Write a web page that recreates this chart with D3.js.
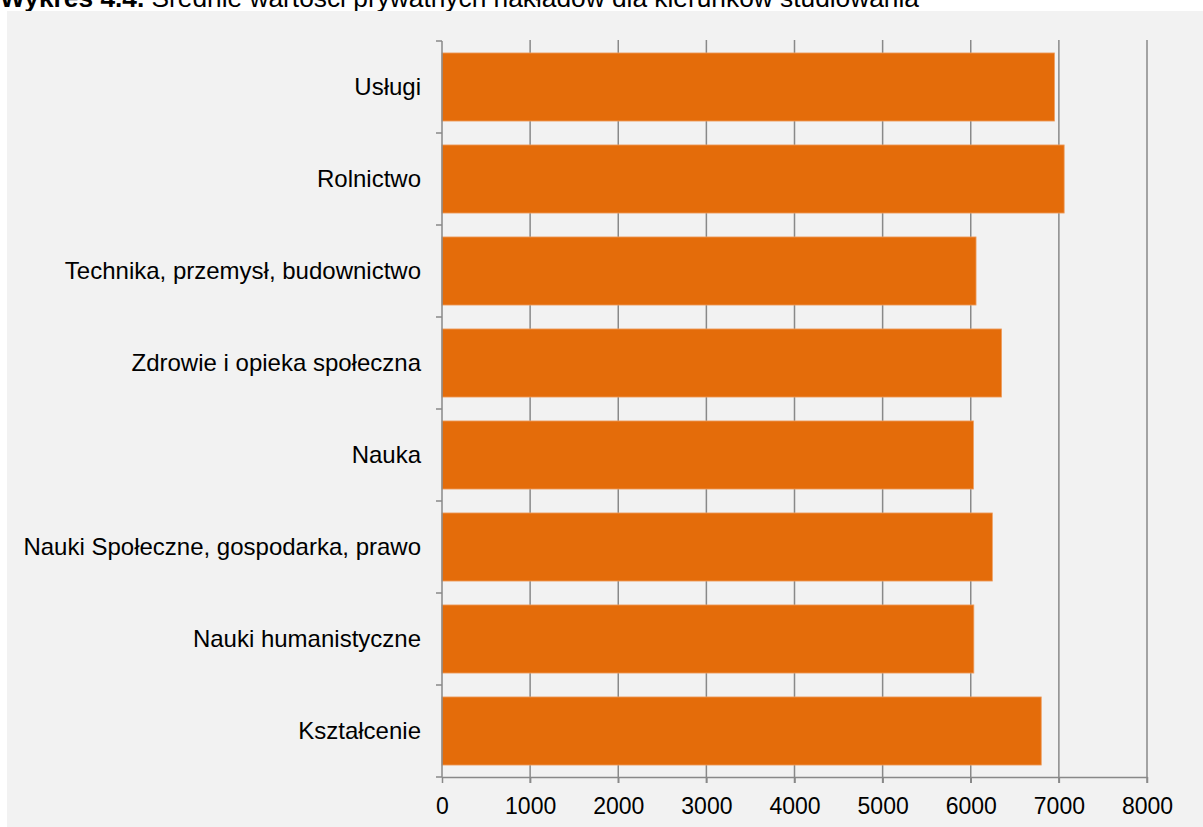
<!DOCTYPE html>
<html>
<head>
<meta charset="utf-8">
<script src="https://cdn.jsdelivr.net/npm/d3@7"></script>
<style>
  html, body { margin: 0; padding: 0; background: #ffffff; }
  svg { display: block; font-family: "Liberation Sans", Arial, sans-serif; }
</style>
</head>
<body>
<svg id="chart" width="1203" height="827"></svg>
<script>
// Fields of study, top to bottom
const categories = [
  "Usługi",
  "Rolnictwo",
  "Technika, przemysł, budownictwo",
  "Zdrowie i opieka społeczna",
  "Nauka",
  "Nauki Społeczne, gospodarka, prawo",
  "Nauki humanistyczne",
  "Kształcenie"
];
// Average private spending per field
const values = [6950, 7060, 6060, 6350, 6030, 6245, 6035, 6800];
const xTicks = [0, 1000, 2000, 3000, 4000, 5000, 6000, 7000, 8000];
const titleBold = "Wykres 4.4.";
const titleText = "Średnie wartości prywatnych nakładów dla kierunków studiowania";

const svg = d3.select("#chart");
const gridColor = "#898989";

// Title
const title = svg.append("text")
  .attr("x", 0).attr("y", 7)
  .attr("font-size", 26.3).attr("fill", "#000");
title.append("tspan").attr("font-weight", "bold").text(titleBold);
title.append("tspan").text(" " + titleText);

// Chart panel
svg.append("rect")
  .attr("x", 7).attr("y", 11)
  .attr("width", 1196).attr("height", 816)
  .attr("fill", "#f2f2f2");

const plot = { left: 442, right: 1147, top: 41, bottom: 777 };

const x = d3.scaleLinear().domain([0, 8000]).range([plot.left, plot.right]);
const slot = d3.scaleBand().domain(categories).range([plot.top, plot.bottom]).padding(0);
const y = d3.scaleBand().domain(categories).range([plot.top, plot.bottom])
  .paddingInner(0.26).paddingOuter(0.13);

// Vertical gridlines
svg.append("g").selectAll("line")
  .data(xTicks.filter(d => d > 0))
  .join("line")
  .attr("x1", d => x(d)).attr("x2", d => x(d))
  .attr("y1", plot.top - 1).attr("y2", plot.bottom + 6)
  .attr("stroke", gridColor).attr("stroke-width", 1.5);

// Bars
svg.append("g").selectAll("rect")
  .data(categories.map((c, i) => ({ c, v: values[i] })))
  .join("rect")
  .attr("x", x(0))
  .attr("y", d => y(d.c))
  .attr("width", d => x(d.v) - x(0))
  .attr("height", y.bandwidth())
  .attr("fill", "#e46c0a")
  .attr("stroke", "#ee9f62")
  .attr("stroke-width", 0.8);

// Category axis: line, slot boundary ticks, labels
const yAxis = svg.append("g");
yAxis.append("line")
  .attr("x1", plot.left).attr("x2", plot.left)
  .attr("y1", plot.top).attr("y2", plot.bottom)
  .attr("stroke", gridColor).attr("stroke-width", 1.5);
const bounds = categories.map(c => slot(c)).concat([plot.bottom]);
yAxis.selectAll("line.tick")
  .data(bounds)
  .join("line")
  .attr("class", "tick")
  .attr("x1", plot.left - 6).attr("x2", plot.left)
  .attr("y1", d => d).attr("y2", d => d)
  .attr("stroke", gridColor).attr("stroke-width", 1.5);
yAxis.selectAll("text")
  .data(categories)
  .join("text")
  .attr("x", plot.left - 21)
  .attr("y", d => slot(d) + slot.bandwidth() / 2)
  .attr("dy", "0.32em")
  .attr("text-anchor", "end")
  .attr("font-size", 24)
  .attr("fill", "#000")
  .text(d => d);

// Value axis
const xAxis = svg.append("g")
  .attr("transform", `translate(0,${plot.bottom})`)
  .call(d3.axisBottom(x).tickValues(xTicks).tickFormat(d3.format("d"))
    .tickSize(6).tickSizeOuter(0).tickPadding(15));
xAxis.select(".domain").attr("stroke", gridColor).attr("stroke-width", 1.5);
xAxis.selectAll(".tick line").attr("stroke", gridColor).attr("stroke-width", 1.5);
xAxis.selectAll(".tick text")
  .attr("font-size", 23)
  .attr("font-family", "\"Liberation Sans\", Arial, sans-serif")
  .attr("fill", "#000");
</script>
</body>
</html>
